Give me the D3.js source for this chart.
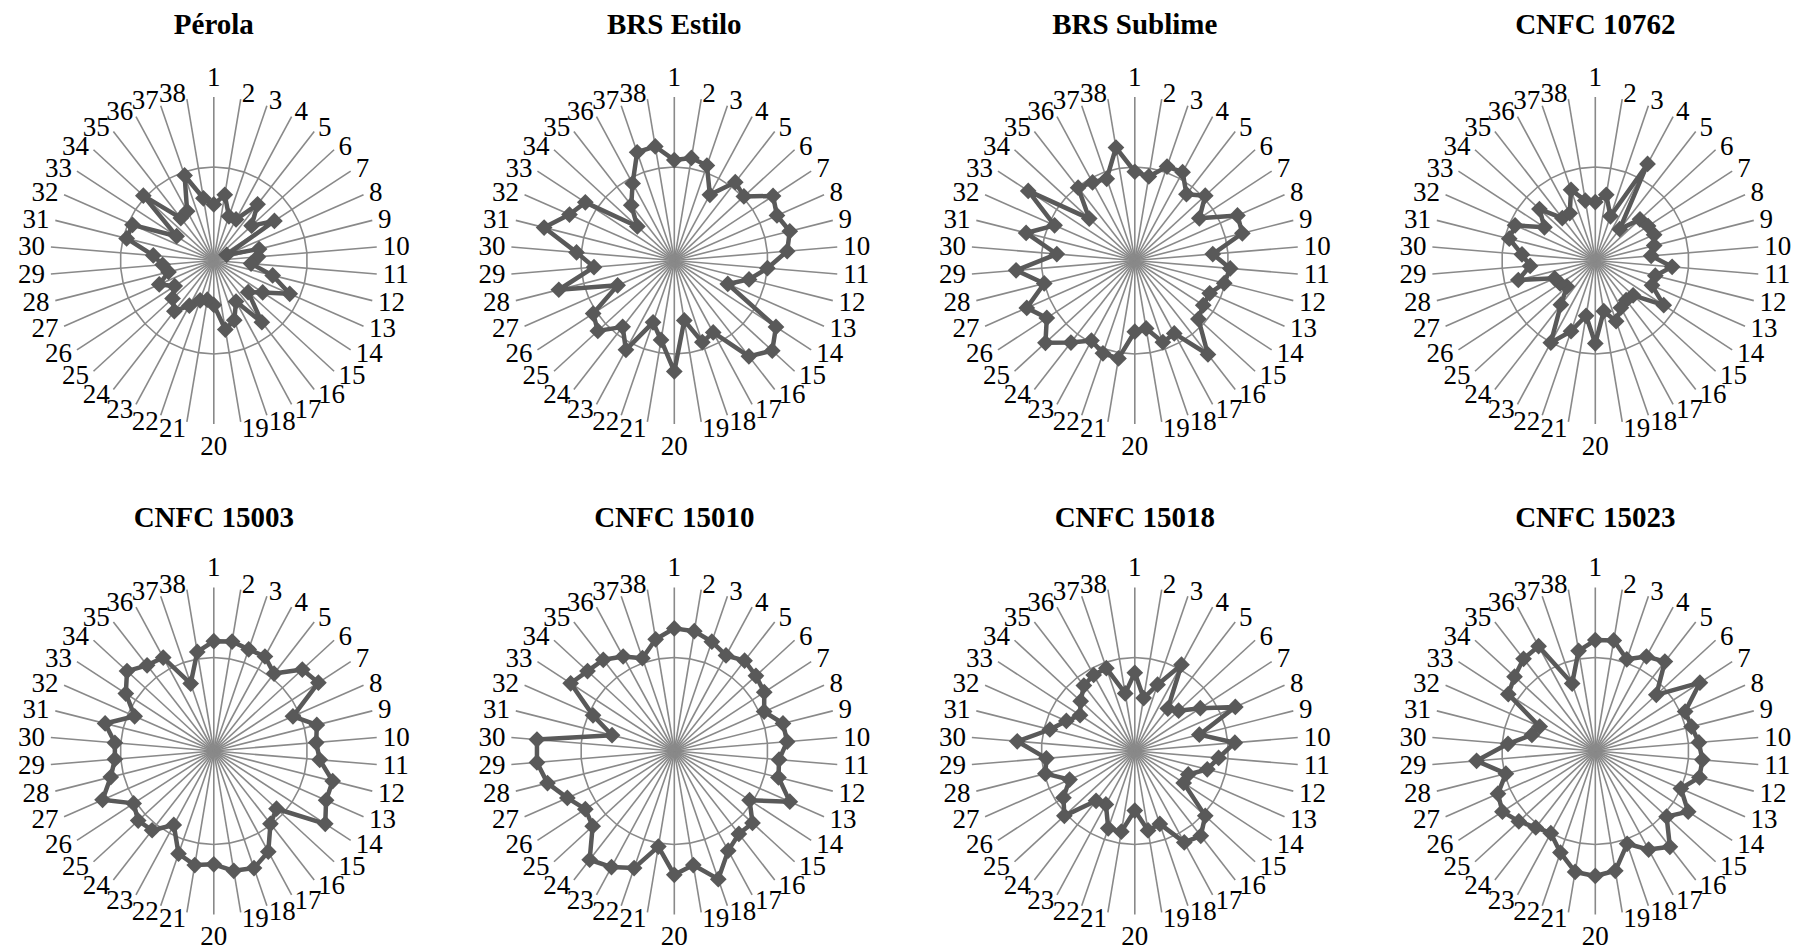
<!DOCTYPE html>
<html>
<head>
<meta charset="utf-8">
<script src="https://cdn.jsdelivr.net/npm/d3@7"></script>
<style>
  html, body { margin: 0; padding: 0; background: #ffffff; }
  svg { display: block; }
</style>
</head>
<body>
<svg id="chart" width="1796" height="951"></svg>
<script>
// ---------- data ----------
const categories = ["1","2","3","4","5","6","7","8","9","10","11","12","13","14","15","16","17","18","19",
                    "20","21","22","23","24","25","26","27","28","29","30","31","32","33","34","35","36","37","38"];

const titles = ["Pérola", "BRS Estilo", "BRS Sublime", "CNFC 10762",
                "CNFC 15003", "CNFC 15010", "CNFC 15018", "CNFC 15023"];

const axisMax = 7;
const gridValue = 4;

const perola     = [2.4,2.85,2.0,2.0,3.05,2.2,3.1,0.6,2.0,1.9,1.6,2.6,3.55,2.5,2.0,3.35,2.0,2.7,3.0,
                    1.9,1.7,1.8,2.2,2.75,2.4,2.0,2.55,2.0,2.2,2.6,3.85,3.8,1.9,4.1,2.3,2.4,3.85,2.7];
const brsEstilo  = [4.3,4.45,4.3,3.2,4.25,4.05,5.05,4.8,5.1,4.85,4.0,3.3,2.5,5.2,5.7,5.2,3.5,3.7,2.6,
                    4.75,3.45,2.8,4.35,3.6,4.45,4.15,2.65,5.1,3.45,4.2,5.75,4.9,4.55,2.15,3.0,3.75,4.9,4.95];
const brsSublime = [3.8,3.65,4.25,4.3,3.6,4.1,3.3,4.8,4.75,3.35,4.1,3.95,3.5,3.5,3.7,5.1,3.55,3.7,2.95,
                    3.05,4.25,4.2,3.9,4.45,5.2,4.5,5.05,4.0,5.1,3.35,4.8,3.75,5.45,2.65,3.95,3.8,3.7,4.9];
const cnfc10762  = [2.5,2.85,2.0,4.7,1.7,2.6,2.7,2.75,2.6,2.4,3.3,2.65,2.65,3.5,2.2,2.15,2.3,2.75,2.2,
                    3.55,2.4,3.2,4.0,2.4,1.65,1.8,1.9,3.4,2.8,3.15,3.8,3.75,2.6,3.25,2.3,2.3,3.2,2.6];
const cnfc15003  = [4.7,4.75,4.6,4.6,4.2,5.15,5.35,3.7,4.55,4.4,4.55,5.25,5.25,5.7,3.65,3.95,4.9,5.3,5.2,
                    4.85,4.95,4.65,3.6,4.3,4.4,4.1,5.2,4.55,4.25,4.25,4.8,3.7,4.5,5.05,4.65,4.55,3.05,4.3];
const cnfc15010  = [5.25,5.2,4.95,4.65,4.9,4.75,4.6,4.2,4.8,4.85,4.5,4.6,5.4,3.85,4.55,4.5,4.85,5.8,4.95,
                    5.3,4.15,5.3,5.65,5.9,4.75,4.55,5.0,5.6,5.9,5.9,2.75,3.8,5.3,5.05,4.95,4.6,4.2,4.85];
const cnfc15018  = [3.35,2.3,3.0,4.2,2.3,2.55,3.35,4.7,2.85,4.3,3.6,3.2,2.5,2.5,4.1,4.6,4.45,3.3,3.45,
                    2.55,3.5,3.5,2.6,2.7,4.1,3.65,3.05,3.95,3.8,5.05,3.75,3.2,2.8,3.15,3.55,3.7,3.75,2.5];
const cnfc15023  = [4.75,4.8,4.15,4.6,4.85,3.55,5.35,4.2,4.25,4.45,4.6,4.6,4.0,4.75,4.15,5.2,4.8,4.2,5.2,
                    5.35,5.25,4.6,4.0,4.15,4.45,4.75,4.55,3.95,5.1,3.75,2.8,2.6,4.45,4.7,5.0,5.1,3.05,4.35];

const seriesList = [perola, brsEstilo, brsSublime, cnfc10762, cnfc15003, cnfc15010, cnfc15018, cnfc15023];
const panels = titles.map((t, i) => ({ title: t, values: seriesList[i] }));

// ---------- layout ----------
const colX = [213.8, 674.3, 1134.8, 1595.3];
const rowY = [260.5, 751];
const titleY = [34, 527];
const R = 163.5;

const gridColor = "#898989";
const seriesColor = "#595959";
const fontFamily = "'Liberation Serif', 'Times New Roman', serif";

const svg = d3.select("#chart");

const angle = d3.scaleBand().domain(categories).range([0, 2 * Math.PI]).padding(0);
const radius = d3.scaleLinear().domain([0, axisMax]).range([0, R]);

panels.forEach((p, idx) => {
  const cx = colX[idx % 4];
  const cy = rowY[Math.floor(idx / 4)];
  const g = svg.append("g").attr("transform", `translate(${cx},${cy})`);

  // spokes
  g.selectAll("line.spoke").data(categories).join("line")
    .attr("class", "spoke")
    .attr("x1", 0).attr("y1", 0)
    .attr("x2", d => radius(axisMax) * Math.sin(angle(d)))
    .attr("y2", d => -radius(axisMax) * Math.cos(angle(d)))
    .attr("stroke", gridColor).attr("stroke-width", 1.6);

  // gridline ring
  const ring = d3.lineRadial()
    .angle(d => angle(d)).radius(() => radius(gridValue))
    .curve(d3.curveLinearClosed);
  g.append("path").attr("d", ring(categories))
    .attr("fill", "none").attr("stroke", gridColor).attr("stroke-width", 1.6);

  // category labels
  g.selectAll("text.cat").data(categories).join("text")
    .attr("class", "cat")
    .each(function(d) {
      const a = angle(d);
      const s = Math.sin(a), c = -Math.cos(a);
      const ax = (radius(axisMax) + 6) * s;
      const ay = (radius(axisMax) + 6) * c;
      const t = d3.select(this);
      if (Math.abs(s) < 0.05) {
        t.attr("x", ax).attr("y", ay + (c < 0 ? -14 : 16)).attr("text-anchor", "middle");
      } else {
        t.attr("x", ax).attr("y", ay).attr("text-anchor", s > 0 ? "start" : "end");
      }
    })
    .attr("dy", "0.33em")
    .style("font-family", fontFamily).style("font-size", "27px").attr("fill", "#000")
    .text(d => d);

  // series line
  const line = d3.lineRadial()
    .angle((d, i) => angle(categories[i]))
    .radius(d => radius(d))
    .curve(d3.curveLinearClosed);
  g.append("path").attr("d", line(p.values))
    .attr("fill", "none").attr("stroke", seriesColor)
    .attr("stroke-width", 4.5).attr("stroke-linejoin", "round");

  // markers (diamonds)
  const sym = d3.symbol().type(d3.symbolSquare).size(140);
  g.selectAll("path.marker").data(p.values).join("path")
    .attr("class", "marker")
    .attr("d", sym)
    .attr("transform", (d, i) => {
      const a = angle(categories[i]);
      return `translate(${radius(d) * Math.sin(a)},${-radius(d) * Math.cos(a)}) rotate(45)`;
    })
    .attr("fill", seriesColor);

  // title
  svg.append("text")
    .attr("x", cx).attr("y", titleY[Math.floor(idx / 4)])
    .attr("text-anchor", "middle")
    .style("font-family", fontFamily).style("font-weight", "bold").style("font-size", "29px")
    .attr("fill", "#000")
    .text(p.title);
});
</script>
</body>
</html>
